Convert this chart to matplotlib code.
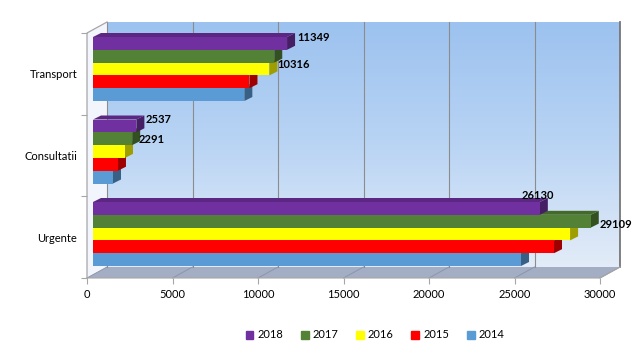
import matplotlib
matplotlib.use('Agg')
import matplotlib.pyplot as plt
import numpy as np
from matplotlib.patches import Polygon, Patch
from matplotlib.colors import LinearSegmentedColormap, to_rgb

plt.rcParams['font.family'] = ['Lato', 'DejaVu Sans']

# data (bottom -> top)
categories = ['Urgente', 'Consultatii', 'Transport']
years = ['2014', '2015', '2016', '2017', '2018']
v2014 = [25030, 1170, 8850]
v2015 = [26960, 1460, 9150]
v2016 = [27900, 1870, 10316]
v2017 = [29109, 2291, 10600]
v2018 = [26130, 2537, 11349]
series = [v2014, v2015, v2016, v2017, v2018]
colors = ['#5B9BD5', '#FF0000', '#FFFF00', '#538135', '#7030A0']

# which bars get a value label: (category index, year index) -> (dx px, dy px, align)
shown = {(2, 4): (2, 5.5, 'left'), (2, 2): (0, 4, 'left'),
         (1, 4): (1, 6.5, 'left'), (1, 3): (-2, -1, 'left'),
         (0, 4): (-2, 13, 'center'), (0, 3): (1, -3, 'left')}

fig = plt.figure(figsize=(6.41, 3.49), dpi=100)
ax = fig.add_axes([87 / 641, 71 / 349, 513 / 641, 256 / 349])

px = 30000 / 513      # value units per pixel
py = 1 / 82.5         # category units per pixel
ybot, ytop = -44 * py, 212 * py
DX, DY = 20 * px, 11 * py          # wall depth
bx0, bdx, bdy = 6 * px, 8 * px, 4 * py   # bar offset/depth
h = 12.8 * py

# back wall gradient
grad = np.linspace(0, 1, 256).reshape(-1, 1)
cmap = LinearSegmentedColormap.from_list('wall', ['#e3ecf8', '#b9d4f4', '#9cc2ef'])
ax.imshow(grad, extent=(DX, 30000 + DX, ybot + DY, ytop), origin='lower',
          cmap=cmap, aspect='auto', clip_on=False, zorder=0)

# left wall + floor
ax.add_patch(Polygon([(0, ybot), (DX, ybot + DY), (DX, ytop), (0, ytop - DY)],
                     closed=True, fc='#f2f5fb', ec='none', clip_on=False, zorder=0.5))
ax.add_patch(Polygon([(0, ybot), (30000, ybot), (30000 + DX, ybot + DY), (DX, ybot + DY)],
                     closed=True, fc='#a3aec4', ec='none', clip_on=False, zorder=0.5))

grid_c = '#8c8c8c'
for k in range(7):
    x = k * 5000
    ax.plot([x + DX] * 2, [ybot + DY, ytop], color=grid_c if k < 6 else '#767676',
            lw=0.8 if k < 6 else 1.3, clip_on=False, zorder=1)
    ax.plot([x, x + DX], [ybot, ybot + DY], color='#8a96ab', lw=0.7, clip_on=False, zorder=1)
ax.plot([0, 0, DX], [ybot, ytop - DY, ytop], color='#a6a6a6', lw=0.9, clip_on=False, zorder=1)
ax.plot([0, 30000, 30000 + DX], [ybot, ybot, ybot + DY], color='#a6a6a6', lw=0.8,
        clip_on=False, zorder=1)

# bars with fake 3d faces
ypos = np.arange(len(categories))
for j, (vals, col) in enumerate(zip(series, colors)):
    z = 3 + j * 0.1
    rgb = np.array(to_rgb(col))
    bars = ax.barh(ypos + (j - 2) * h, vals, height=h, left=bx0, color=col,
                   zorder=z + 0.02)
    for i, b in enumerate(bars):
        x0, x1 = b.get_x(), b.get_x() + b.get_width()
        y0, y1 = b.get_y(), b.get_y() + b.get_height()
        ax.add_patch(Polygon([(x1, y0), (x1 + bdx, y0 + bdy), (x1 + bdx, y1 + bdy), (x1, y1)],
                             closed=True, fc=rgb * 0.62, ec='none', zorder=z))
        ax.add_patch(Polygon([(x0, y1), (x1, y1), (x1 + bdx, y1 + bdy), (x0 + bdx, y1 + bdy)],
                             closed=True, fc=rgb * 0.82, ec='none', zorder=z + 0.01))
        if (i, j) in shown:
            ox, oy, ha = shown[(i, j)]
            yc = (y0 + y1) / 2 + oy * py
            if ha == 'left':
                tx = x1 + bdx + ox * px
            else:
                tx = x1 + ox * px
            ax.text(tx, yc, str(vals[i]), ha=ha, va='center', fontsize=8,
                    fontweight='bold', color='black', zorder=10)

ax.set_xlim(0, 30000)
ax.set_ylim(ybot, ytop)
for s in ax.spines.values():
    s.set_visible(False)

ax.set_xticks(range(0, 30001, 5000))
ax.tick_params(axis='x', length=4, color='#a6a6a6', labelsize=8, pad=4)

span = (ytop - DY - ybot) / 3
ax.set_yticks([ybot + k * span for k in range(4)])
ax.set_yticklabels([])
ax.set_yticks([ybot + (k + 0.5) * span for k in range(3)], minor=True)
ax.set_yticklabels(categories, minor=True)
ax.tick_params(axis='y', which='major', length=4, color='#a6a6a6')
ax.tick_params(axis='y', which='minor', length=0, pad=7, labelsize=8)

handles = [Patch(color=c, label=y) for y, c in zip(years[::-1], colors[::-1])]
fig.legend(handles=handles, ncol=5, loc='center', bbox_to_anchor=(375 / 641, 1 - 335 / 349),
           frameon=False, fontsize=8, handlelength=0.7, handleheight=0.7,
           columnspacing=1.6, handletextpad=0.35)

fig.savefig('out.png', dpi=100)
